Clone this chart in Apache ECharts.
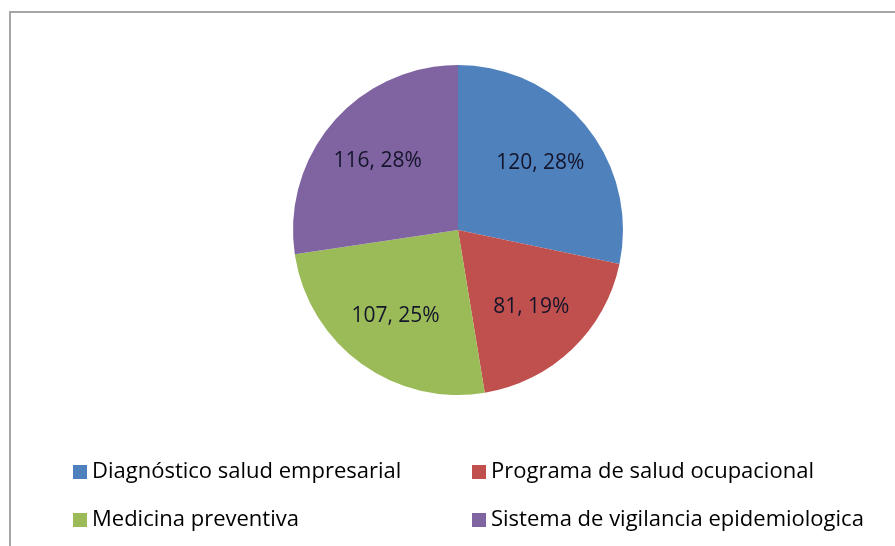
<!DOCTYPE html>
<html>
<head>
<meta charset="utf-8">
<script src="https://cdn.jsdelivr.net/npm/echarts@6/dist/echarts.min.js"></script>
<style>
  html, body { margin: 0; padding: 0; background: #fff; }
  #frame {
    position: absolute; left: 9px; top: 11px; width: 900px; height: 560px;
    border-top: 2px solid #a6a6a6; border-left: 2px solid #a6a6a6;
  }
  #chart { position: absolute; left: 0; top: 0; width: 895px; height: 546px; }
</style>
</head>
<body>
<div id="frame"></div>
<div id="chart"></div>
<script>
// categorías y valores
const categories = [
  'Diagnóstico salud empresarial',
  'Programa de salud ocupacional',
  'Medicina preventiva',
  'Sistema de vigilancia epidemiologica'
];
const values = [120, 81, 107, 116];
const colors = ['#4f81bd', '#c0504d', '#9bbb59', '#8064a2'];

const cx = 458, cy = 230;
const myChart = echarts.init(document.getElementById('chart'));

const legendText = {
  fontFamily: 'Open Sans',
  fontSize: 22,
  lineHeight: 24,
  color: '#000'
};

myChart.setOption({
  animation: false,
  color: colors,
  legend: [{
    orient: 'vertical',
    left: 68,
    top: 455,
    itemWidth: 14,
    itemHeight: 14,
    itemGap: 24,
    icon: 'rect',
    textStyle: legendText,
    data: [categories[0], categories[2]]
  }, {
    orient: 'vertical',
    left: 467,
    top: 455,
    itemWidth: 14,
    itemHeight: 14,
    itemGap: 24,
    icon: 'rect',
    textStyle: legendText,
    data: [categories[1], categories[3]]
  }],
  series: [{
    type: 'pie',
    center: [cx, cy],
    radius: 165,
    startAngle: 90,
    clockwise: true,
    percentPrecision: 0,
    avoidLabelOverlap: false,
    label: {
      show: true,
      position: 'inside',
      formatter: '{c}, {d}%',
      fontFamily: 'Open Sans',
      fontSize: 21,
      color: '#14142a'
    },
    // empujar etiquetas un poco hacia afuera
    labelLayout: function (p) {
      const r = p.labelRect;
      const lx = r.x + r.width / 2, ly = r.y + r.height / 2;
      return { dx: (lx - cx) * 0.24, dy: (ly - cy) * 0.24 };
    },
    itemStyle: { borderWidth: 0 },
    emphasis: { disabled: true },
    data: categories.map((name, i) => ({ name: name, value: values[i] }))
  }]
});
window.addEventListener('resize', () => myChart.resize());
</script>
</body>
</html>
